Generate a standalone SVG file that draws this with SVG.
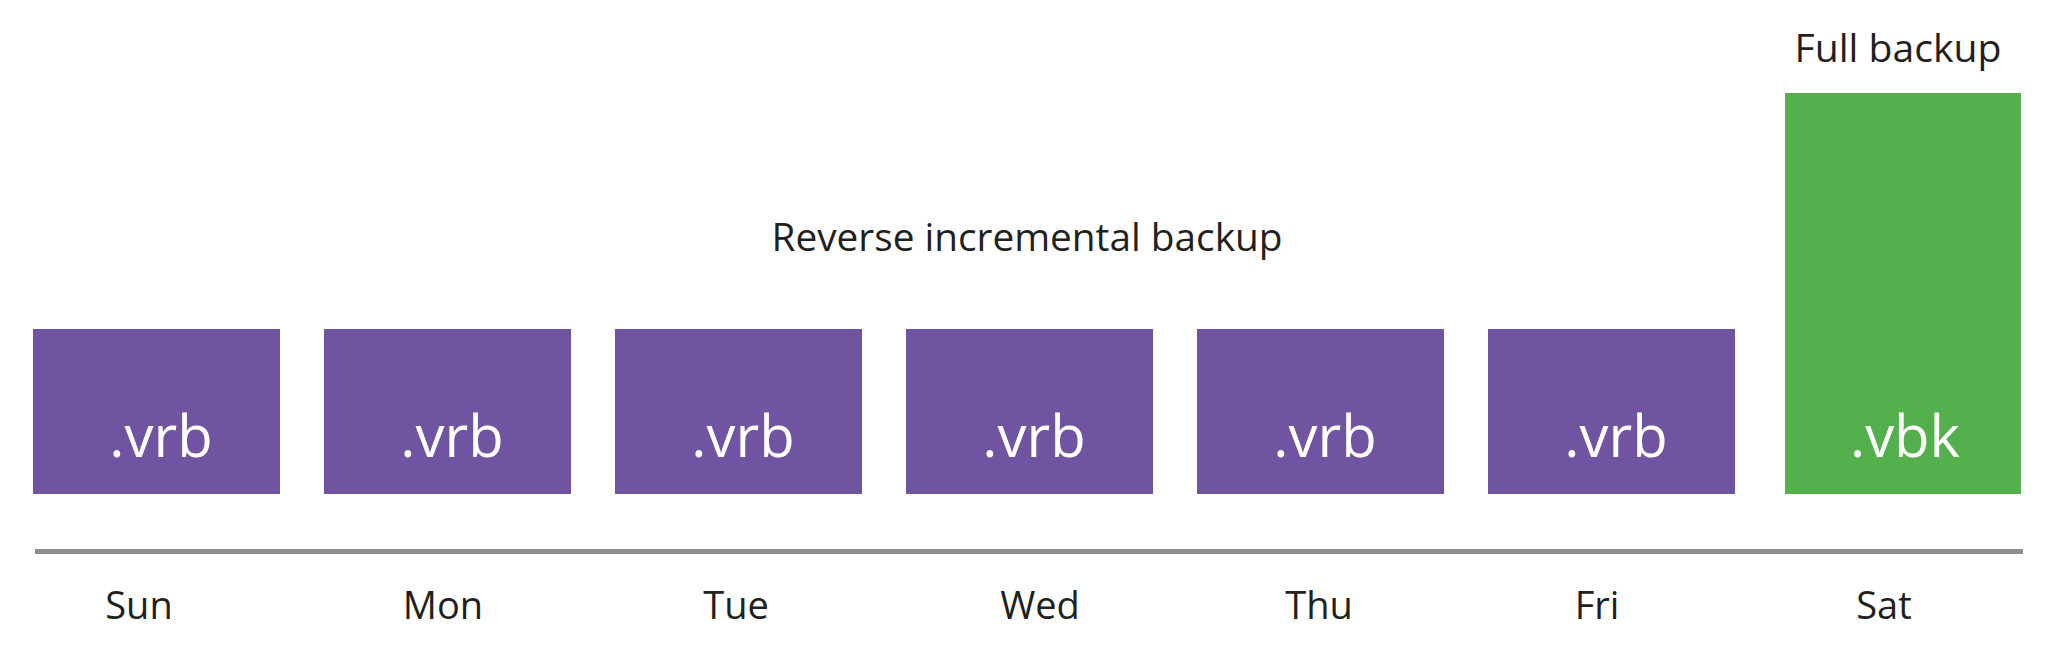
<svg xmlns="http://www.w3.org/2000/svg" width="2048" height="670" viewBox="0 0 2048 670">
<style>
.inc{fill:#7053A1}
.full{fill:#53B04C}
.ext{font-family:"Open Sans","Noto Sans",sans-serif;font-size:58px;fill:#FFFFFF;text-anchor:middle}
.lbl{font-family:"Open Sans","Noto Sans",sans-serif;font-size:38px;fill:#231F20;text-anchor:middle}
.axis{stroke:#8E8E8E;stroke-width:5;fill:none}
</style>
<rect width="2048" height="670" fill="#FFFFFF"/>
<g id="title">
<text class="lbl" x="1027" y="251" textLength="511" lengthAdjust="spacingAndGlyphs">Reverse incremental backup</text>
</g>
<g id="full-title">
<text class="lbl" x="1898" y="62" textLength="207" lengthAdjust="spacingAndGlyphs">Full backup</text>
</g>
<g id="sun"><rect class="inc" x="33" y="329" width="247" height="165"/><text class="ext" x="161" y="457">.vrb</text></g>
<g id="mon"><rect class="inc" x="324" y="329" width="247" height="165"/><text class="ext" x="452" y="457">.vrb</text></g>
<g id="tue"><rect class="inc" x="615" y="329" width="247" height="165"/><text class="ext" x="743" y="457">.vrb</text></g>
<g id="wed"><rect class="inc" x="906" y="329" width="247" height="165"/><text class="ext" x="1034" y="457">.vrb</text></g>
<g id="thu"><rect class="inc" x="1197" y="329" width="247" height="165"/><text class="ext" x="1325" y="457">.vrb</text></g>
<g id="fri"><rect class="inc" x="1488" y="329" width="247" height="165"/><text class="ext" x="1616" y="457">.vrb</text></g>
<g id="sat"><rect class="full" x="1785" y="93" width="236" height="401"/><text class="ext" x="1905" y="457">.vbk</text></g>
<g id="connectors">
<line class="axis" x1="35" y1="551.5" x2="2023" y2="551.5"/>
</g>
<g id="days">
<text class="lbl" x="139" y="619">Sun</text>
<text class="lbl" x="443" y="619">Mon</text>
<text class="lbl" x="736" y="619">Tue</text>
<text class="lbl" x="1040" y="619">Wed</text>
<text class="lbl" x="1319" y="619">Thu</text>
<text class="lbl" x="1597" y="619">Fri</text>
<text class="lbl" x="1884" y="619">Sat</text>
</g>
</svg>
